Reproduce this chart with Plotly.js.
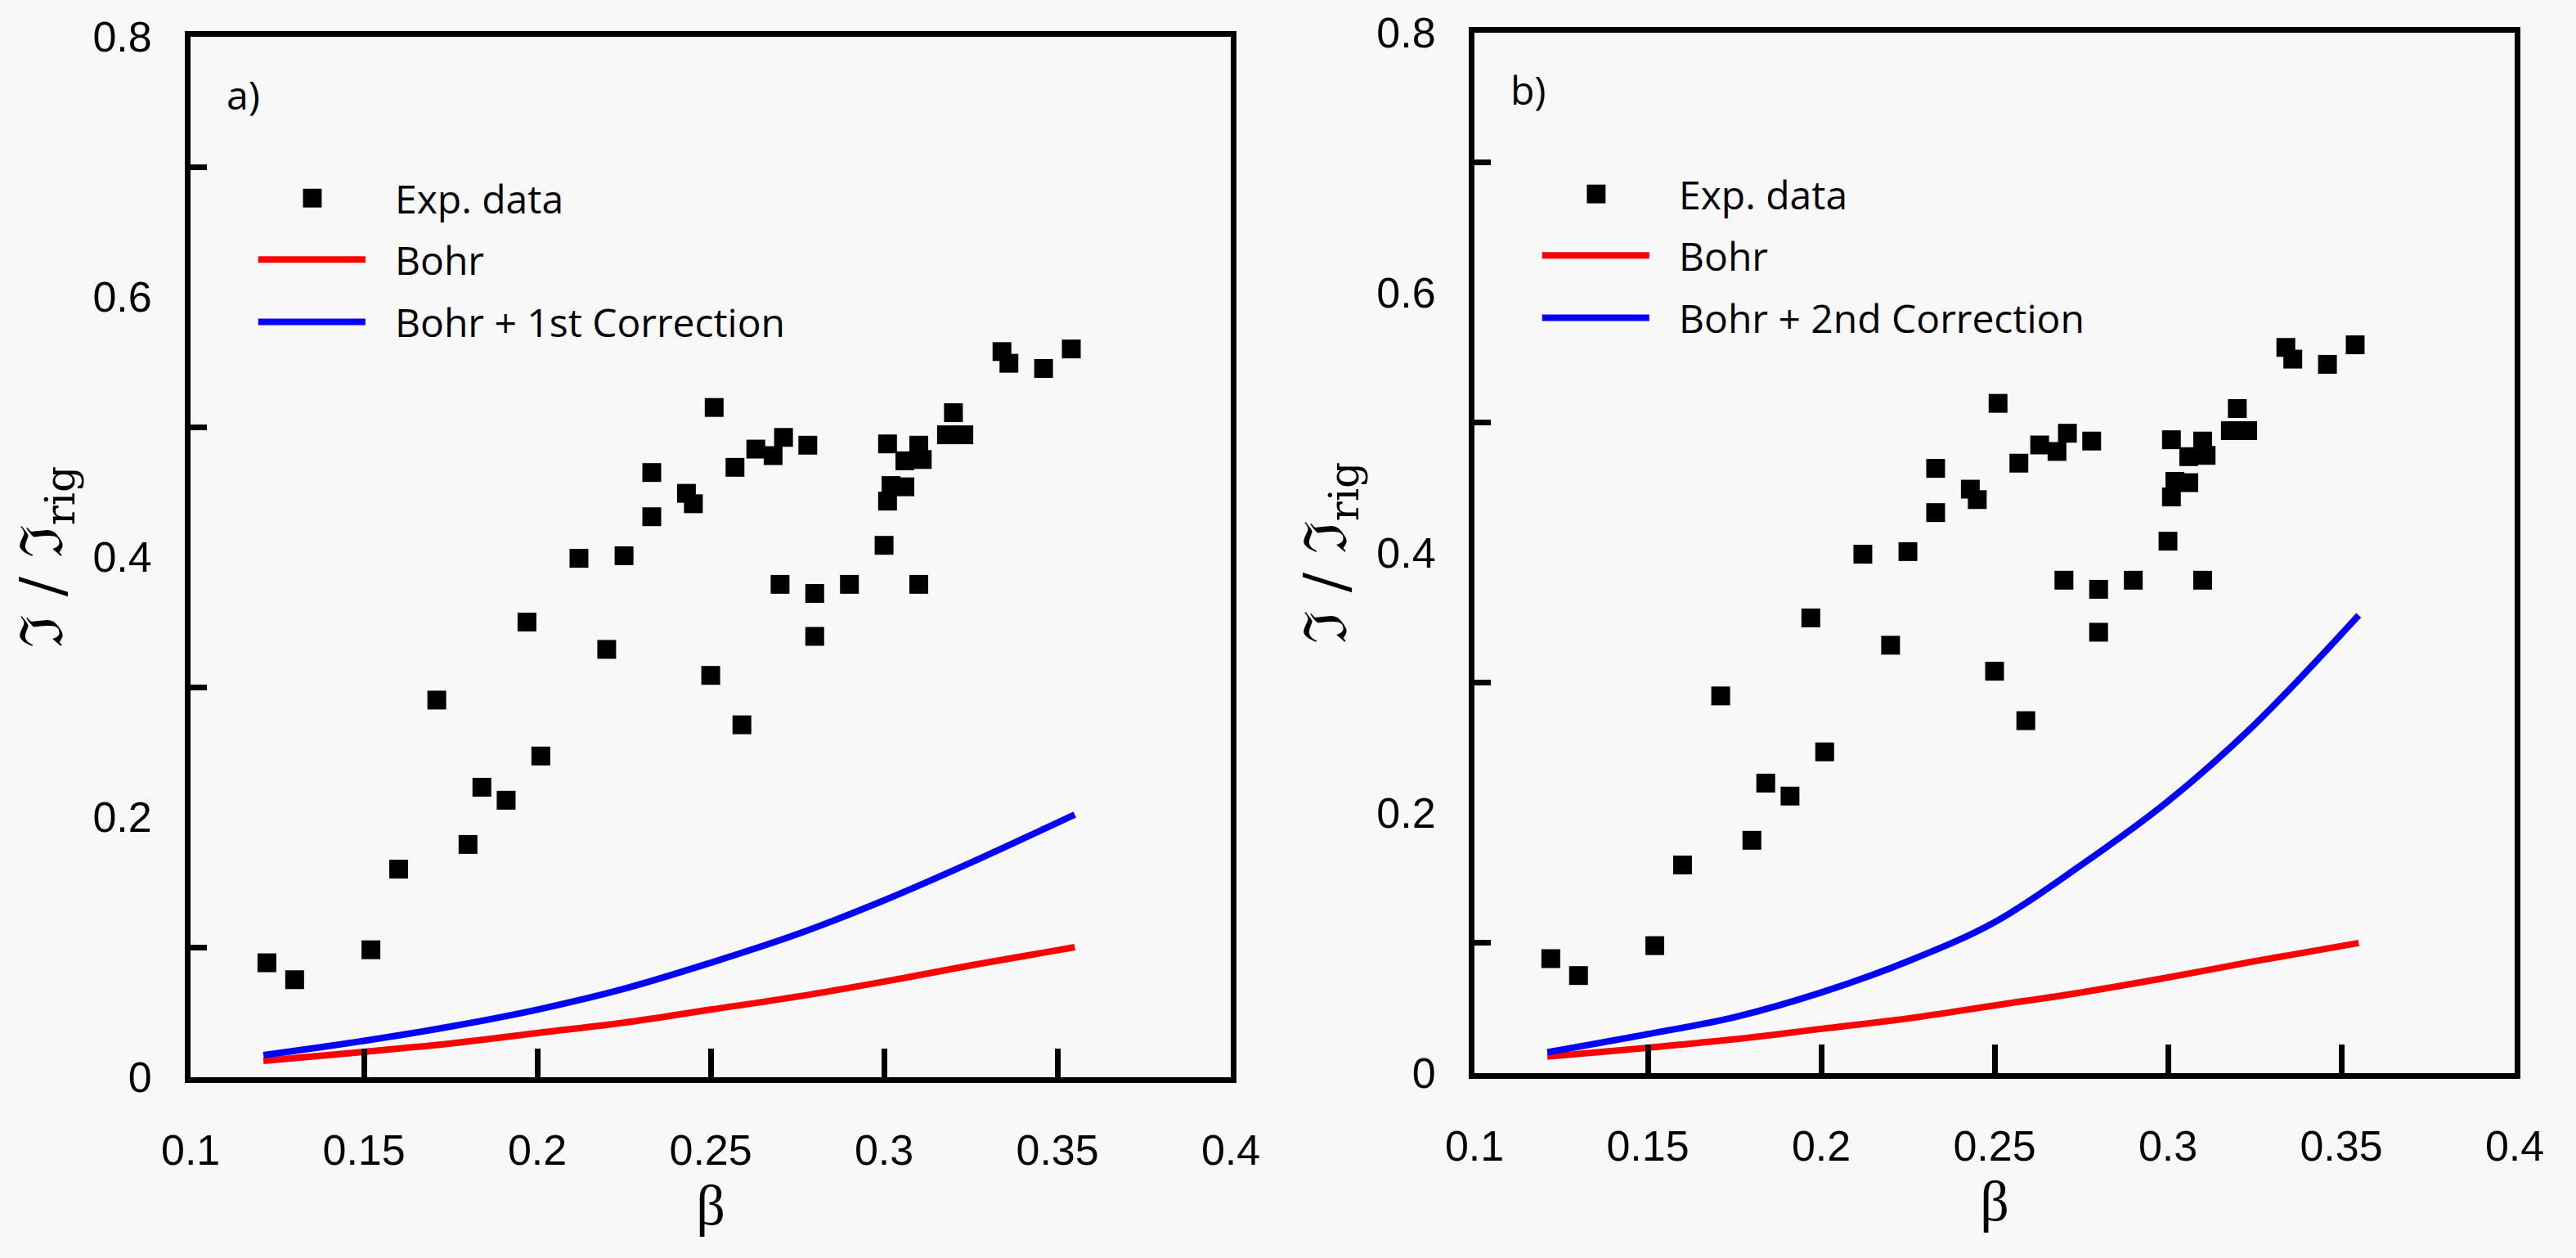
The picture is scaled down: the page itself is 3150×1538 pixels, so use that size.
<!DOCTYPE html>
<html>
<head>
<meta charset="utf-8">
<script src="https://cdn.plot.ly/plotly-3.0.1.min.js"></script>
<style>
html, body { margin: 0; padding: 0; background: #f8f8f8; }
#chart { width: 3150px; height: 1538px; }
</style>
</head>
<body>
<div id="chart"></div>
<script>
// ---- Experimental data (same in both panels) ----
const expBeta = [0.122, 0.130, 0.152, 0.160, 0.171, 0.180, 0.184, 0.191, 0.197, 0.201,
  0.220, 0.212, 0.225, 0.233, 0.233, 0.243, 0.245, 0.250, 0.251, 0.257,
  0.259, 0.263, 0.268, 0.270, 0.271, 0.278, 0.280, 0.280, 0.290, 0.300,
  0.301, 0.301, 0.302, 0.306, 0.306, 0.310, 0.311, 0.310, 0.318, 0.320,
  0.323, 0.334, 0.336, 0.346, 0.354];
const expRatio = [0.088, 0.075, 0.098, 0.160, 0.290, 0.179, 0.223, 0.213, 0.350, 0.247,
  0.329, 0.399, 0.401, 0.431, 0.465, 0.449, 0.441, 0.309, 0.515, 0.469,
  0.271, 0.483, 0.478, 0.379, 0.492, 0.486, 0.372, 0.339, 0.379, 0.409,
  0.443, 0.487, 0.455, 0.454, 0.474, 0.486, 0.475, 0.379, 0.494, 0.511,
  0.494, 0.558, 0.549, 0.545, 0.560];

// ---- Model curves ----
const curveBeta   = [0.121, 0.150, 0.175, 0.200, 0.225, 0.250, 0.275, 0.300, 0.325, 0.355];
const bohrRatio   = [0.0126, 0.0195, 0.026, 0.034, 0.042, 0.052, 0.062, 0.0735, 0.086, 0.100];
const corr1Ratio  = [0.017, 0.028, 0.039, 0.052, 0.068, 0.088, 0.110, 0.136, 0.165, 0.202];
const corr2Ratio  = [0.016, 0.030, 0.043, 0.062, 0.086, 0.116, 0.160, 0.209, 0.268, 0.352];

// ---- Text / ticks ----
const panelLabels = ['a)', 'b)'];
const legendExp = 'Exp. data';
const legendBohr = 'Bohr';
const legendCorr = ['Bohr + 1st Correction', 'Bohr + 2nd Correction'];
const xTickVals = [0.1, 0.15, 0.2, 0.25, 0.3, 0.35, 0.4];
const xTickText = ['0.1', '0.15', '0.2', '0.25', '0.3', '0.35', '0.4'];
const yTickVals = [0, 0.2, 0.4, 0.6, 0.8];
const yTickText = ['0', '0.2', '0.4', '0.6', '0.8'];
const yMinorVals = [0.1, 0.3, 0.5, 0.7];
const xTitle = 'β';
const yTitle = 'ℑ / ℑ<sub>rig</sub>';

const BG = '#f8f8f8';
const tickFont = { family: 'Liberation Sans, Arial, sans-serif', size: 52, color: '#000' };
const textFont = { family: 'Open Sans, sans-serif', size: 48, color: '#000' };

function xAxis(domain) {
  return {
    domain: domain, range: [0.1, 0.4], showgrid: false, zeroline: false,
    showline: true, linecolor: '#000', linewidth: 7, mirror: true,
    tickmode: 'array', tickvals: xTickVals, ticktext: xTickText,
    ticks: 'inside', ticklen: 35, tickwidth: 7, tickcolor: '#000',
    ticklabelstandoff: 38, tickfont: tickFont,
    title: { text: xTitle, font: { family: 'Liberation Serif, Times New Roman, serif', size: 70, color: '#000' }, standoff: 14 },
    automargin: false, fixedrange: true
  };
}
function yAxis(domain, anchor) {
  return {
    domain: domain, range: [0, 0.8], anchor: anchor, showgrid: false, zeroline: false,
    showline: true, linecolor: '#000', linewidth: 7, mirror: true,
    tickmode: 'array', tickvals: yTickVals, ticktext: yTickText,
    ticks: '', ticklabelstandoff: 30, tickfont: tickFont,
    minor: { tickmode: 'array', tickvals: yMinorVals, ticks: 'inside', ticklen: 20, tickwidth: 7, tickcolor: '#000', showgrid: false },
    title: { text: yTitle, font: { family: 'DejaVu Serif, serif', size: 72, color: '#000' }, standoff: 16 },
    automargin: false, fixedrange: true
  };
}

const traces = [];
const corrRatios = [corr1Ratio, corr2Ratio];
['', '2'].forEach(function (s, i) {
  traces.push({ x: curveBeta, y: bohrRatio, xaxis: 'x' + s, yaxis: 'y' + s, type: 'scatter', mode: 'lines',
    line: { color: '#ff0000', width: 8, shape: 'spline' }, name: legendBohr, showlegend: false, hoverinfo: 'skip' });
  traces.push({ x: curveBeta, y: corrRatios[i], xaxis: 'x' + s, yaxis: 'y' + s, type: 'scatter', mode: 'lines',
    line: { color: '#0000ff', width: 8, shape: 'spline' }, name: legendCorr[i], showlegend: false, hoverinfo: 'skip' });
  traces.push({ x: expBeta, y: expRatio, xaxis: 'x' + s, yaxis: 'y' + s, type: 'scatter', mode: 'markers',
    marker: { symbol: 'square', size: 23, color: '#000', line: { width: 0 } }, name: legendExp, showlegend: false, hoverinfo: 'skip' });
});

// hand-built legends (long line samples as in the original)
const shapes = [];
const annotations = [];
const rows = [0.845, 0.786, 0.726];
['', '2'].forEach(function (s, i) {
  const xr = 'x' + s + ' domain', yr = 'y' + s + ' domain';
  shapes.push({ type: 'rect', xref: xr, yref: yr, x0: 0.108, x1: 0.126, y0: rows[0] - 0.009, y1: rows[0] + 0.009,
    fillcolor: '#000', line: { width: 0 } });
  shapes.push({ type: 'line', xref: xr, yref: yr, x0: 0.065, x1: 0.168, y0: rows[1], y1: rows[1], line: { color: '#ff0000', width: 8 } });
  shapes.push({ type: 'line', xref: xr, yref: yr, x0: 0.065, x1: 0.168, y0: rows[2], y1: rows[2], line: { color: '#0000ff', width: 8 } });
  [legendExp, legendBohr, legendCorr[i]].forEach(function (t, k) {
    annotations.push({ xref: xr, yref: yr, x: 0.195, y: rows[k], text: t, showarrow: false,
      xanchor: 'left', yanchor: 'middle', font: textFont });
  });
  annotations.push({ xref: xr, yref: yr, x: 0.033, y: 0.945, text: panelLabels[i], showarrow: false,
    xanchor: 'left', yanchor: 'middle', font: textFont });
});

const layout = {
  width: 3150, height: 1538,
  margin: { l: 0, r: 0, t: 0, b: 0 },
  paper_bgcolor: BG, plot_bgcolor: BG,
  showlegend: false,
  xaxis: Object.assign(xAxis([0.0740, 0.4778]), { anchor: 'y' }),
  yaxis: yAxis([0.1437, 0.9707], 'x'),
  xaxis2: Object.assign(xAxis([0.5724, 0.9762]), { anchor: 'y2' }),
  yaxis2: yAxis([0.1470, 0.9740], 'x2'),
  shapes: shapes,
  annotations: annotations
};

Plotly.newPlot('chart', traces, layout, { staticPlot: true, displayModeBar: false });
</script>
</body>
</html>
